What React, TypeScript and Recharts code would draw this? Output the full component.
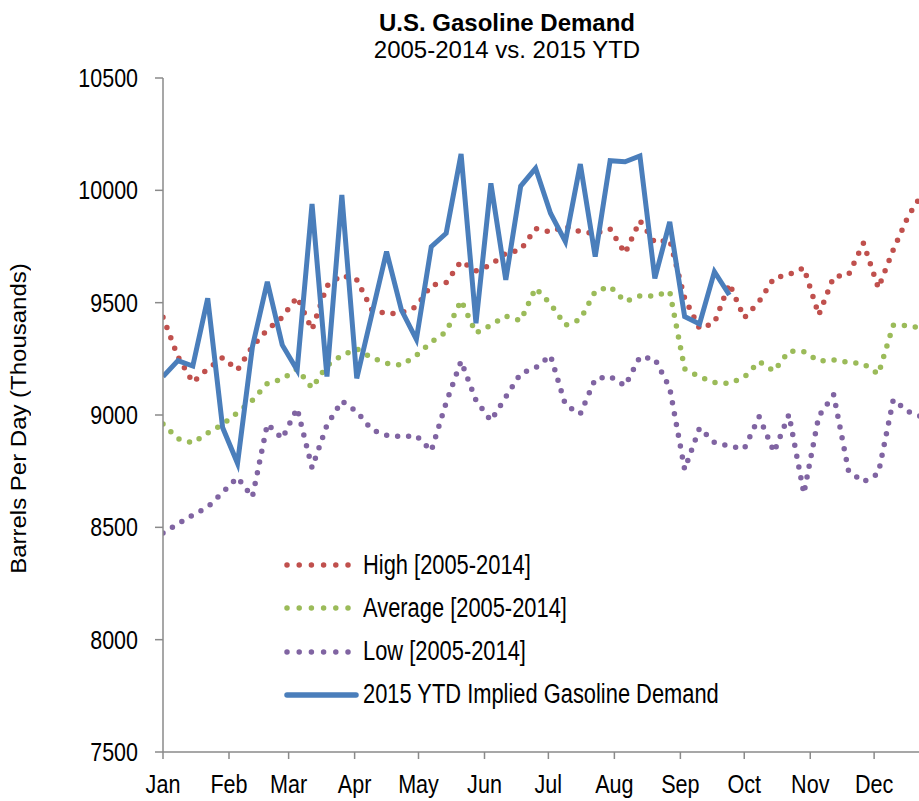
import React from 'react';
import { LineChart, Line, XAxis, YAxis } from 'recharts';

// week offsets (days from Jan 1) for the weekly readings
const weekDays = [
  0, 7, 14, 21, 28, 35, 42, 49, 56, 63, 70, 77, 84, 91, 98, 105, 112, 119, 126, 133,
  140, 147, 154, 161, 168, 175, 182, 189, 196, 203, 210, 217, 224, 231, 238, 245, 252,
  259, 266, 273, 280, 287, 294, 301, 308, 315, 322, 329, 336, 343, 350, 357,
];

const monthStarts = [0, 31, 59, 90, 120, 151, 181, 212, 243, 273, 304, 334];
const monthLabels = ['Jan', 'Feb', 'Mar', 'Apr', 'May', 'Jun', 'Jul', 'Aug', 'Sep', 'Oct', 'Nov', 'Dec'];
const yTicks = [7500, 8000, 8500, 9000, 9500, 10000, 10500];

// High [2005-2014]
const highValues = [
  9435, 9260, 9145, 9205, 9255, 9200, 9305, 9380, 9435, 9525, 9380, 9575, 9622, 9602,
  9470, 9450, 9455, 9482, 9578, 9590, 9685, 9642, 9668, 9720, 9735, 9830, 9814, 9840,
  9816, 9808, 9828, 9720, 9865, 9768, 9780, 9520, 9385, 9410, 9585, 9432, 9505, 9610,
  9625, 9655, 9445, 9615, 9625, 9765, 9565, 9735, 9885, 9990,
];

// Average [2005-2014]
const averageValues = [
  8960, 8895, 8875, 8920, 8958, 9010, 9065, 9140, 9160, 9205, 9120, 9220, 9265, 9295,
  9255, 9230, 9222, 9265, 9325, 9370, 9510, 9365, 9400, 9440, 9420, 9565, 9495, 9400,
  9425, 9550, 9572, 9505, 9530, 9530, 9550, 9205, 9170, 9145, 9140, 9168, 9238, 9195,
  9285, 9282, 9240, 9245, 9235, 9227, 9182, 9400, 9398, 9385,
];

// Low [2005-2014]
const lowValues = [
  8475, 8515, 8555, 8590, 8655, 8722, 8635, 8960, 8895, 9030, 8765, 8955, 9062, 9015,
  8935, 8910, 8904, 8908, 8840, 9055, 9240, 9065, 8975, 9080, 9185, 9210, 9265, 9045,
  9005, 9160, 9172, 9130, 9258, 9250, 9120, 8758, 8942, 8878, 8862, 8850, 8992, 8835,
  9002, 8650, 8995, 9090, 8750, 8702, 8740, 9068, 9015, 8990,
];

// 2015 YTD Implied Gasoline Demand
const ytdValues = [
  9171, 9242, 9218, 9520, 8944, 8785, 9304, 9593, 9312, 9200, 9939, 9171, 9979, 9163,
  9445, 9727, 9467, 9337, 9749, 9809, 10162, 9408, 10031, 9601, 10019, 10098, 9898, 9772,
  10117, 9705, 10132, 10127, 10153, 9608, 9859, 9438, 9405, 9638, 9534,
];

const series = [
  { key: 'high', name: 'High [2005-2014]', color: '#C0504D', dotted: true },
  { key: 'average', name: 'Average [2005-2014]', color: '#9BBB59', dotted: true },
  { key: 'low', name: 'Low [2005-2014]', color: '#8064A2', dotted: true },
  { key: 'ytd', name: '2015 YTD Implied Gasoline Demand', color: '#4A7EBB', dotted: false },
];

const data = weekDays.map((day, i) => ({
  day,
  high: highValues[i],
  average: averageValues[i],
  low: lowValues[i],
  ytd: i < ytdValues.length ? ytdValues[i] : null,
}));

const FONT = "'Liberation Sans', Arial, sans-serif";
const AXIS = '#8a8a8a';

// the source uses a condensed face; squeeze Liberation Sans horizontally
function MonthTick({ x, y, payload }: any) {
  return (
    <g transform={`translate(${x},${y})`}>
      <text x={0} y={0} dy={19} textAnchor="middle" transform="scale(0.83,1)"
        fill="#000" fontSize={26} fontFamily={FONT}>
        {monthLabels[monthStarts.indexOf(payload.value)]}
      </text>
    </g>
  );
}

function ValueTick({ x, y, payload }: any) {
  return (
    <g transform={`translate(${x},${y})`}>
      <text x={0} y={0} dy={9} textAnchor="end" transform="scale(0.81,1)"
        fill="#000" fontSize={26.5} fontFamily={FONT}>
        {payload.value}
      </text>
    </g>
  );
}

function ChartLegend() {
  return (
    <div style={{ position: 'absolute', left: 276, top: 0, fontFamily: FONT, fontSize: 27, color: '#000' }}>
      {series.map((s, i) => (
        <div key={s.key} style={{
          position: 'absolute', left: 0, top: 537 + i * 43.3, height: 40,
          display: 'flex', alignItems: 'center', whiteSpace: 'nowrap',
        }}>
          <svg width={79} height={12} style={{ flex: 'none' }}>
            {s.dotted ? (
              <line x1={3} y1={6} x2={64} y2={6} stroke={s.color} strokeWidth={5.5}
                strokeDasharray="0 12.2" strokeLinecap="round" />
            ) : (
              <line x1={3} y1={6} x2={72} y2={6} stroke={s.color} strokeWidth={5.5}
                strokeLinecap="round" />
            )}
          </svg>
          <span style={{ display: 'inline-block', transform: 'scaleX(0.81)', transformOrigin: 'left center' }}>
            {s.name}
          </span>
        </div>
      ))}
    </div>
  );
}

export default function App() {
  return (
    <div style={{ position: 'absolute', left: 8, top: 8, width: 911, height: 793, overflow: 'hidden', background: '#fff' }}>
      <div style={{ position: 'absolute', left: 0, top: 1, width: 998, textAlign: 'center', fontFamily: FONT, color: '#000', zIndex: 2 }}>
        <div style={{ fontSize: 24, fontWeight: 'bold', lineHeight: '27px' }}>U.S. Gasoline Demand</div>
        <div style={{ fontSize: 24, lineHeight: '27px' }}>2005-2014 vs. 2015 YTD</div>
      </div>
      <div style={{
        position: 'absolute', left: 2, top: 231, width: 18, height: 360, lineHeight: '18px',
        writingMode: 'vertical-rl', textAlign: 'center', transform: 'rotate(180deg) scaleY(1.09)',
        fontFamily: FONT, fontSize: 22, color: '#000', whiteSpace: 'nowrap', zIndex: 2,
      }}>
        Barrels Per Day (Thousands)
      </div>
      <LineChart width={940} height={793} data={data} margin={{ top: 70, right: 10, bottom: 9, left: 65 }}>
        <XAxis
          type="number"
          dataKey="day"
          domain={[0, 364]}
          ticks={monthStarts}
          interval={0}
          allowDataOverflow
          height={40}
          tickSize={7}
          tickMargin={15}
          axisLine={{ stroke: AXIS, strokeWidth: 1.5 }}
          tickLine={{ stroke: AXIS, strokeWidth: 1.5 }}
          tick={<MonthTick />}
        />
        <YAxis
          type="number"
          domain={[7500, 10500]}
          ticks={yTicks}
          interval={0}
          width={90}
          tickSize={8}
          tickMargin={17}
          axisLine={{ stroke: AXIS, strokeWidth: 1.5 }}
          tickLine={{ stroke: AXIS, strokeWidth: 1.5 }}
          tick={<ValueTick />}
        />
        {series.map((s) => (
          <Line
            key={s.key}
            type="linear"
            dataKey={s.key}
            name={s.name}
            stroke={s.color}
            strokeWidth={s.dotted ? 5.5 : 5}
            strokeDasharray={s.dotted ? '0 11' : undefined}
            strokeLinecap={s.dotted ? 'round' : 'butt'}
            dot={false}
            activeDot={false}
            isAnimationActive={false}
          />
        ))}
      </LineChart>
      <ChartLegend />
    </div>
  );
}
